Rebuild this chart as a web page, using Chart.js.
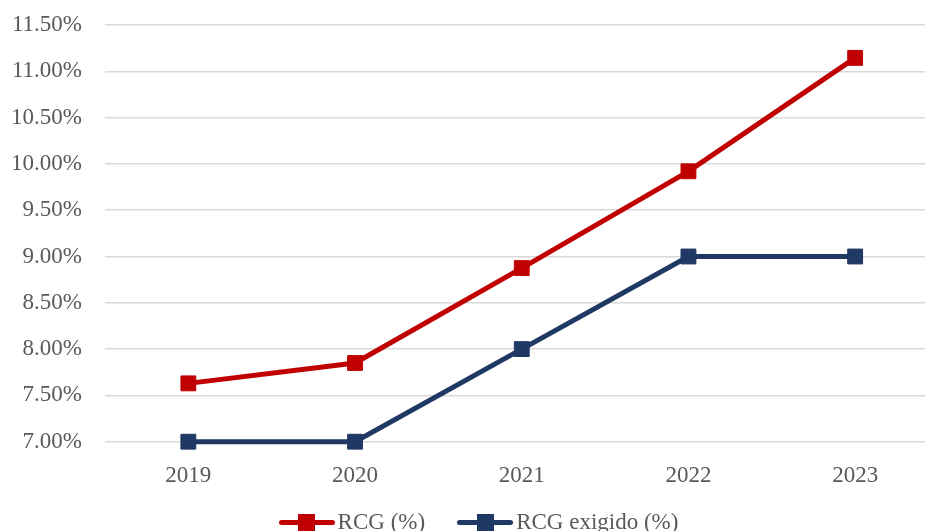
<!DOCTYPE html>
<html>
<head>
<meta charset="utf-8">
<script src="https://cdn.jsdelivr.net/npm/chart.js@4"></script>
<style>
  html, body { margin: 0; padding: 0; background: #fff; overflow: hidden; width: 925px; height: 531px; }
  #wrap { position: absolute; left: 0; top: 0; width: 950px; height: 531px; }
  #legend { position: absolute; left: 0; top: 509px; width: 925px; display: flex; justify-content: center; align-items: center;
            font-family: "Liberation Serif", "Times New Roman", serif; font-size: 23px; color: #595959; white-space: nowrap; margin-left: 16px; }
  .item { display: flex; align-items: center; margin: 0 16px; }
  .sym { position: relative; width: 56px; height: 20px; margin-right: 3px; }
  .sym .ln { position: absolute; left: 0; right: 0; top: 7.5px; height: 5px; border-radius: 3px; }
  .sym .sq { position: absolute; left: 19.5px; top: 1.5px; width: 17px; height: 17px; }
</style>
</head>
<body>
<div id="wrap"><canvas id="c" width="950" height="531"></canvas></div>
<div id="legend"></div>
<script>
const categories = ["2019", "2020", "2021", "2022", "2023"];
const rcg = [7.63, 7.85, 8.875, 9.92, 11.145];
const rcgExigido = [7.00, 7.00, 8.00, 9.00, 9.00];
const seriesNames = ["RCG (%)", "RCG exigido (%)"];
const colors = ["#C00000", "#203864"];
const yMin = 7.0, yMax = 11.5, yStep = 0.5;

const font = { family: '"Liberation Serif", "Times New Roman", serif', size: 23 };

const datasets = [rcg, rcgExigido].map((d, i) => ({
  label: seriesNames[i],
  data: d,
  borderColor: colors[i],
  backgroundColor: colors[i],
  borderWidth: 5,
  pointStyle: 'rect',
  pointRadius: 10.5,
  pointHoverRadius: 10.5,
  pointBorderWidth: 1,
  tension: 0,
  fill: false,
  clip: false
}));

new Chart(document.getElementById('c'), {
  type: 'line',
  data: { labels: categories, datasets },
  options: {
    responsive: false,
    animation: false,
    events: [],
    layout: { padding: { top: 25, right: 0, left: 0, bottom: 0 } },
    plugins: { legend: { display: false }, tooltip: { enabled: false } },
    scales: {
      x: {
        offset: true,
        grid: { display: false, drawTicks: false },
        border: { display: false },
        ticks: { font, color: '#595959', padding: 20 },
        afterFit: s => { s.height = 531 - 25 - 416.7; }
      },
      y: {
        min: yMin, max: yMax,
        grid: { color: '#d9d9d9', lineWidth: 1.5, drawTicks: false },
        border: { display: false },
        ticks: {
          stepSize: yStep, font, color: '#595959', padding: 23,
          callback: v => v.toFixed(2) + '%'
        },
        afterFit: s => { s.width = 105; s.paddingTop = 0; s.paddingBottom = 0; }
      }
    }
  }
});

const legend = document.getElementById('legend');
seriesNames.forEach((n, i) => {
  const it = document.createElement('div');
  it.className = 'item';
  it.innerHTML = '<div class="sym"><div class="ln" style="background:' + colors[i] + '"></div><div class="sq" style="background:' + colors[i] + '"></div></div><span>' + n + '</span>';
  legend.appendChild(it);
});
</script>
</body>
</html>
